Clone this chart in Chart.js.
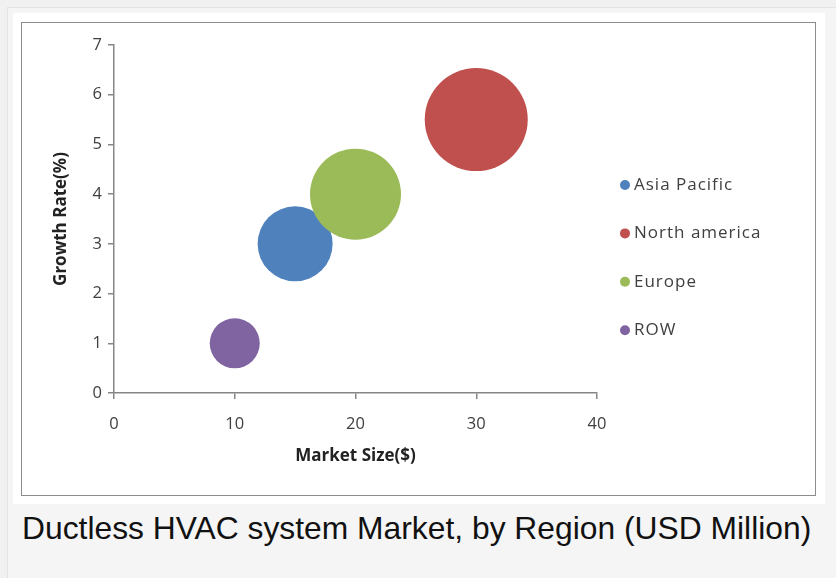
<!DOCTYPE html>
<html>
<head>
<meta charset="utf-8">
<script src="https://cdn.jsdelivr.net/npm/chart.js@4.4.1/dist/chart.umd.min.js"></script>
<style>
    html, body { margin: 0; padding: 0; }
    body { width: 836px; height: 578px; background: #f1f1f1; position: relative; overflow: hidden; }
    .frame { position: absolute; left: 7px; top: 7px; width: 828px; height: 571px; background: #f5f5f5; border-left: 1px solid #e4e4e4; border-top: 1px solid #e4e4e4; }
    .panel { position: absolute; left: 13px; top: 13px; width: 812px; height: 491px; background: #fff; }
    .box { position: absolute; left: 21px; top: 22px; width: 793px; height: 472px; border: 1.5px solid #8c8c8c; background: #fff; }
    .box canvas { position: absolute; left: 0; top: 0; }
    .caption { position: absolute; left: 22px; top: 510px; font-family: "Liberation Sans", Arial, sans-serif; font-size: 31.8px; color: #111; white-space: nowrap; }
</style>
</head>
<body>
<div class="frame"></div>
<div class="panel"></div>
<div class="box"><canvas id="bubbleChart" width="791" height="470"></canvas></div>
<div class="caption">Ductless HVAC system Market, by Region (USD Million)</div>

<script>
// Chart data
const regions = ['Asia Pacific', 'North america', 'Europe', 'ROW'];
const marketSize = [15, 30, 20, 10];
const growthRate = [3, 5.5, 4, 1];
const bubbleSize = [37.5, 51.5, 45.5, 25];
const colors = ['#4f81bd', '#c0504d', '#9bbb59', '#8064a2'];
const drawOrder = [1, 1, 0, 1]; // Europe sits on top of Asia Pacific
const xTicks = [0, 10, 20, 30, 40];
const yTicks = [0, 1, 2, 3, 4, 5, 6, 7];

const axisColor = '#868686';
const textColor = '#404040';
const fontFamily = '"Open Sans", "DejaVu Sans", sans-serif';

// Legend on the right, drawn next to the plot area
const sideLegend = {
    id: 'sideLegend',
    afterDraw(chart) {
        const { ctx, chartArea } = chart;
        const x = chartArea.right + 28;
        const top = chartArea.top + 140;
        const step = 48.4;
        ctx.save();
        ctx.font = '17px ' + fontFamily;
        ctx.letterSpacing = '1px';
        ctx.textBaseline = 'middle';
        chart.data.datasets.forEach((ds, i) => {
            const y = top + i * step;
            ctx.fillStyle = ds.backgroundColor;
            ctx.beginPath();
            ctx.arc(x, y, 5, 0, Math.PI * 2);
            ctx.fill();
            ctx.fillStyle = textColor;
            ctx.fillText(ds.label, x + 9, y);
        });
        ctx.restore();
    }
};

const initChart = () => {
    const ctx = document.getElementById('bubbleChart');

    const datasets = regions.map((name, i) => ({
        label: name,
        data: [{ x: marketSize[i], y: growthRate[i], r: bubbleSize[i] }],
        backgroundColor: colors[i],
        borderWidth: 0,
        hoverBorderWidth: 0,
        order: drawOrder[i]
    }));

    new Chart(ctx, {
        type: 'bubble',
        data: { datasets },
        plugins: [sideLegend],
        options: {
            responsive: false,
            animation: false,
            layout: { autoPadding: false, padding: { left: 0, top: 22, right: 216, bottom: 0 } },
            plugins: {
                legend: { display: false },
                tooltip: { enabled: false }
            },
            scales: {
                x: {
                    type: 'linear',
                    min: 0, max: 40,
                    afterBuildTicks: s => { s.ticks = xTicks.map(v => ({ value: v })); },
                    afterFit: s => { s.height = 100; },
                    ticks: {
                        padding: 15,
                        color: textColor,
                        font: { family: fontFamily, size: 16.5 }
                    },
                    grid: { drawOnChartArea: false, drawTicks: true, tickLength: 6, color: axisColor, lineWidth: 1.5 },
                    border: { color: axisColor, width: 1.5 },
                    title: {
                        display: true,
                        text: 'Market Size($)',
                        color: '#222',
                        font: { family: fontFamily, size: 17, weight: 'bold' },
                        padding: { top: 0, bottom: 27 }
                    }
                },
                y: {
                    type: 'linear',
                    min: 0, max: 7,
                    afterBuildTicks: s => { s.ticks = yTicks.map(v => ({ value: v })); },
                    afterFit: s => { s.width = 92; },
                    ticks: {
                        padding: 6,
                        color: textColor,
                        font: { family: fontFamily, size: 16.5 }
                    },
                    grid: { drawOnChartArea: false, drawTicks: true, tickLength: 6, color: axisColor, lineWidth: 1.5 },
                    border: { color: axisColor, width: 1.5 },
                    title: {
                        display: true,
                        text: 'Growth Rate(%)',
                        color: '#222',
                        font: { family: fontFamily, size: 17, weight: 'bold' },
                        padding: { top: 29, bottom: 0 }
                    }
                }
            }
        }
    });
};

if (document.readyState === 'loading') {
    window.addEventListener('DOMContentLoaded', initChart);
} else {
    initChart();
}
</script>
</body>
</html>
